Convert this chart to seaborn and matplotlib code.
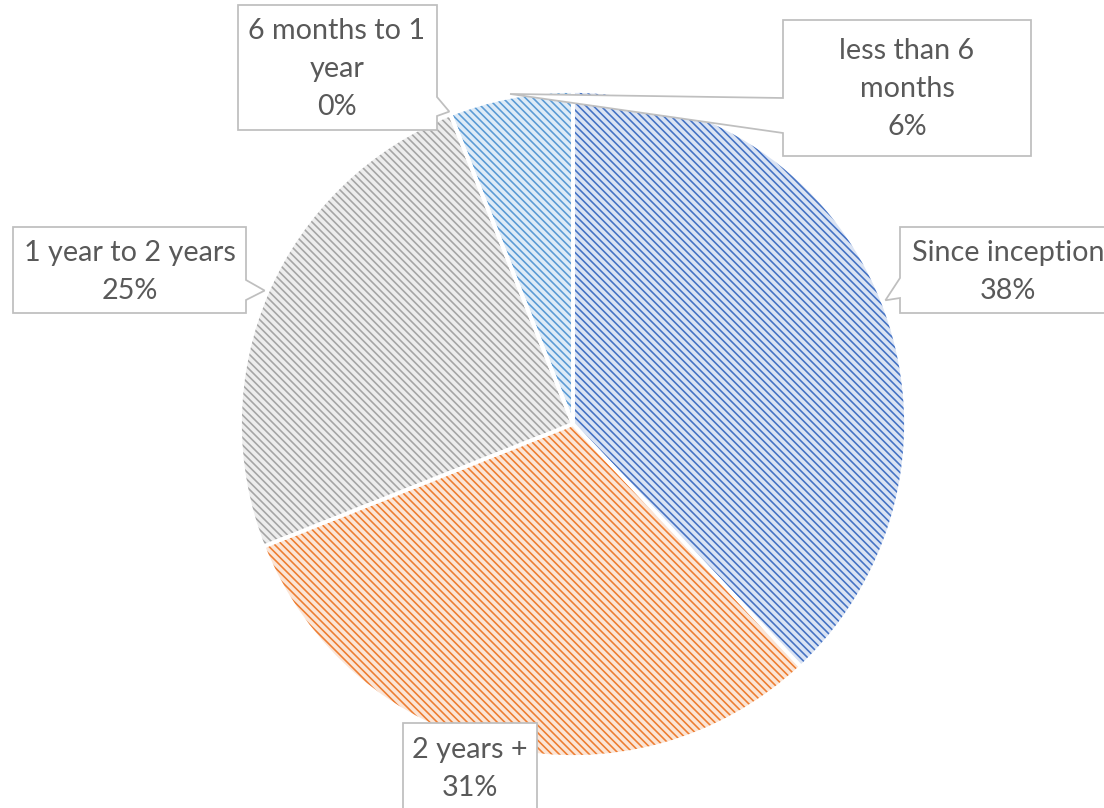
import numpy as np
import matplotlib
matplotlib.use("Agg")
import matplotlib.pyplot as plt
from matplotlib.patches import Polygon
import seaborn as sns

# ---- data ----
categories = ["Since inception", "2 years +", "1 year to 2 years",
              "6 months to 1 year", "less than 6 months"]
values = [38, 31, 25, 0, 6]
label_texts = ["Since inception\n38%", "2 years +\n31%", "1 year to 2 years\n25%",
               "6 months to 1\nyear\n0%", "less than 6\nmonths\n6%"]

stripe_colors = ["#4472C4", "#ED7D31", "#A5A5A5", "#FFC000", "#5B9BD5"]
back_colors = ["#DAE3F3", "#FBE5D6", "#EDEDED", "#FFF2CC", "#DEEBF7"]

sns.set_theme(style="white")
plt.rcParams["font.family"] = ["Lato", "DejaVu Sans"]
plt.rcParams["hatch.linewidth"] = 1.3

DPI = 90
W, H = 1104, 808
fig = plt.figure(figsize=(W / DPI, H / DPI), dpi=DPI)
ax = fig.add_axes([0, 0, 1, 1])

cx, cy, R = 573, 424, 333

# background fills
ax.pie(values, colors=back_colors, startangle=-90, counterclock=True,
       center=(cx, cy), radius=R, frame=True, wedgeprops=dict(linewidth=0))
# hatch overlay
hw, _ = ax.pie(values, colors=["none"] * len(values), startangle=-90, counterclock=True,
               center=(cx, cy), radius=R, frame=True, wedgeprops=dict(linewidth=0))
for w, c in zip(hw, stripe_colors):
    w.set_facecolor("none")
    w.set_edgecolor(c)
    w.set_hatch("\\\\\\\\")
    w.set_linewidth(0)
# white edges
ax.pie(values, colors=["none"] * len(values), startangle=-90, counterclock=True,
       center=(cx, cy), radius=R, frame=True,
       wedgeprops=dict(linewidth=3, edgecolor="white", facecolor="none"))
ax.set_xlim(0, W)
ax.set_ylim(H, 0)
ax.set_aspect("equal")
ax.axis("off")

total = sum(values)
cum = np.cumsum([0] + values)
def tip(i, r=R + 3):
    frac = (cum[i] + cum[i + 1]) / 2 / total
    ang = np.deg2rad(-90 + 360 * frac)
    return cx + r * np.cos(ang), cy + r * np.sin(ang)

edge_c = "#BFBFBF"
text_c = "#595959"

callouts = [
    dict(box=(900, 227, 1130, 313), side="left", base=(278, 298), text_xy=(1008, 272)),
    dict(box=(403, 723, 537, 830), side=None, base=None, text_xy=(470, 769)),
    dict(box=(13, 227, 246, 313), side="right", base=(280, 300), text_xy=(130, 272)),
    dict(box=(238, 5, 437, 130), side="right", base=(97, 116), text_xy=(337, 69)),
    dict(box=(783, 20, 1031, 156), side="left", base=(98, 133), text_xy=(907, 89)),
]

for i, co in enumerate(callouts):
    x0, y0, x1, y1 = co["box"]
    tx, ty = tip(i)
    if co["side"] == "left":
        b0, b1 = co["base"]
        pts = [(x0, y0), (x1, y0), (x1, y1), (x0, y1), (x0, b1), (tx, ty), (x0, b0)]
    elif co["side"] == "right":
        b0, b1 = co["base"]
        pts = [(x0, y0), (x1, y0), (x1, b0), (tx, ty), (x1, b1), (x1, y1), (x0, y1)]
    else:
        pts = [(x0, y0), (x1, y0), (x1, y1), (x0, y1)]
    ax.add_patch(Polygon(pts, closed=True, facecolor="white", edgecolor=edge_c,
                         linewidth=1.4, zorder=5, joinstyle="miter"))
    ax.text(co["text_xy"][0], co["text_xy"][1], label_texts[i], ha="center", va="center",
            color=text_c, fontsize=23, linespacing=1.58, zorder=6)

fig.savefig("out.png", dpi=DPI)
